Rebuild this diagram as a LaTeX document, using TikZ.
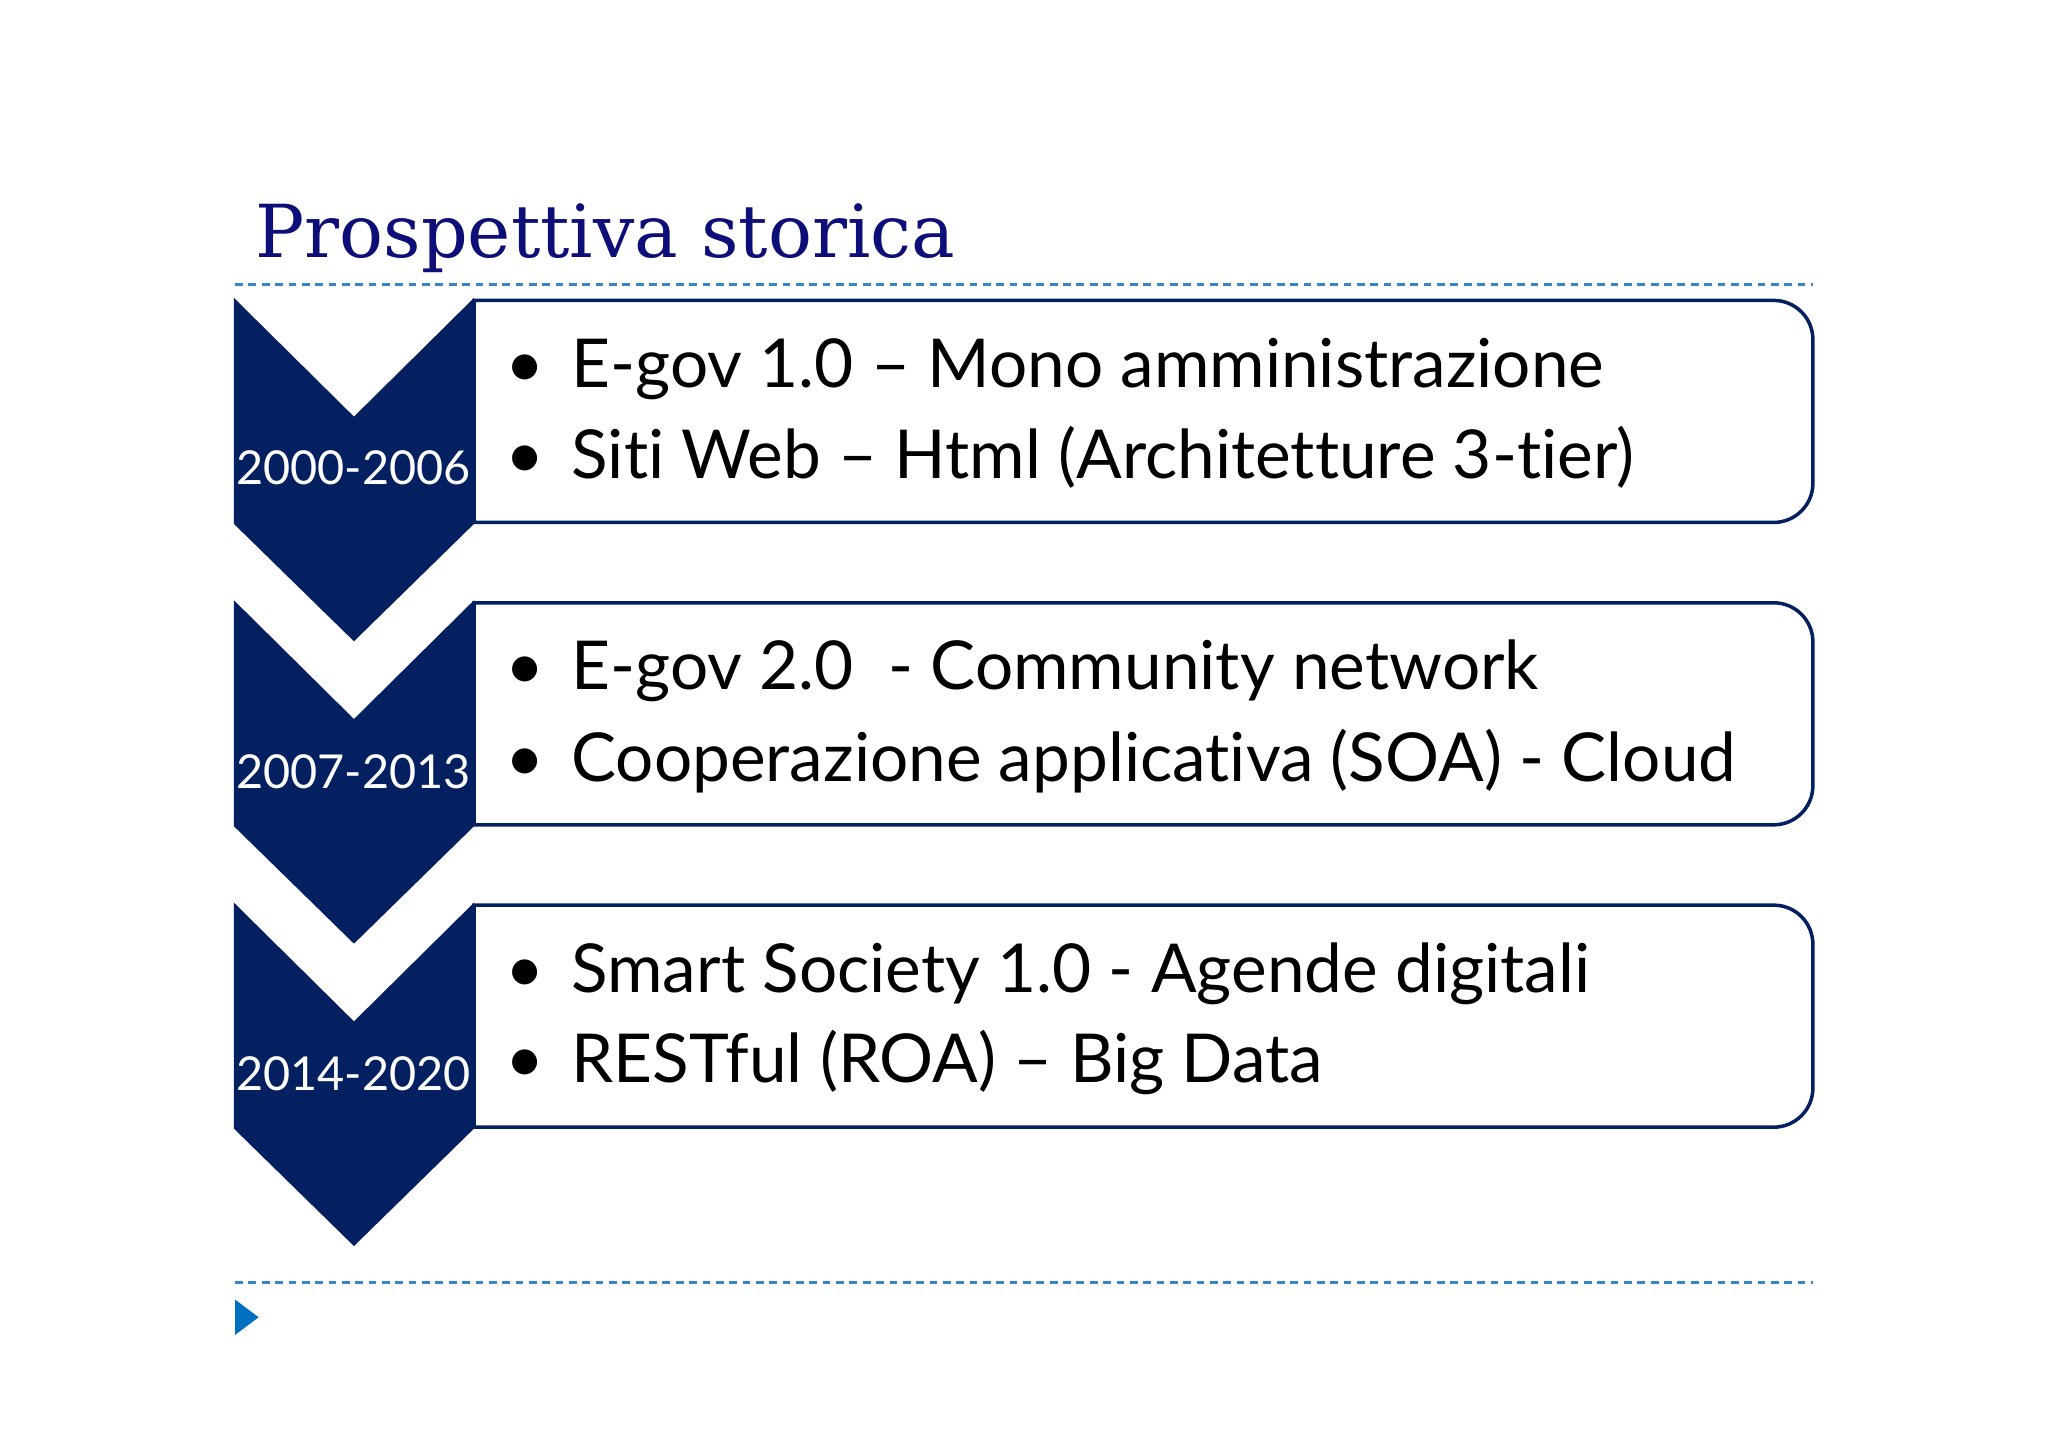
\documentclass[tikz,border=0pt]{standalone}
\usepackage{fontspec}
\newfontfamily\bodyfont[Ligatures=NoCommon]{Lato}
\newfontfamily\titlefont{DejaVu Serif}
\definecolor{navy}{RGB}{4,32,96}
\definecolor{titleblue}{RGB}{14,14,120}
\definecolor{ruleblue}{RGB}{55,135,200}
\definecolor{tri}{RGB}{0,112,192}
\begin{document}
\begin{tikzpicture}[x=0.0130612cm,y=0.0130612cm,
  chev/.style={fill=navy, draw=none},
  boxline/.style={draw=navy, line width=1pt, fill=white},
  item/.style={anchor=base west, inner sep=0pt, font=\bodyfont\fontsize{19.2}{19.2}\selectfont},
  bul/.style={anchor=base, inner sep=0pt, font=\bodyfont\fontsize{19.2}{19.2}\selectfont},
  year/.style={anchor=base, inner sep=0pt, text=white, font=\bodyfont\fontsize{13.3}{13.3}\selectfont},
  rule/.style={draw=ruleblue, line width=0.8pt, dash pattern=on 2.2pt off 1.6pt}]
\useasboundingbox[fill=white] (0,0) rectangle (1568,1108);

% title
\node[anchor=base west, inner sep=0pt, text=titleblue, font=\titlefont\fontsize{20.8}{20.8}\selectfont] (title) at (195,911) {Prospettiva storica};

% rules
\coordinate (r1a) at (180,890); \coordinate (r1b) at (1388,890);
\coordinate (r2a) at (180,126); \coordinate (r2b) at (1388,126);
\draw[rule] (r1a) -- (r1b);
\draw[rule] (r2a) -- (r2b);

% small triangle
\fill[tri] (180,113) -- (198,99.5) -- (180,86) -- cycle;

% boxes
\draw[boxline] (363,878) -- (1358,878) arc[start angle=90,end angle=0,radius=30] -- (1388,738) arc[start angle=0,end angle=-90,radius=30] -- (363,708) -- cycle;
\draw[boxline] (363,646.5) -- (1358,646.5) arc[start angle=90,end angle=0,radius=30] -- (1388,506.5) arc[start angle=0,end angle=-90,radius=30] -- (363,476.5) -- cycle;
\draw[boxline] (363,415) -- (1358,415) arc[start angle=90,end angle=0,radius=30] -- (1388,275) arc[start angle=0,end angle=-90,radius=30] -- (363,245) -- cycle;

% chevrons
\fill[chev] (179,880) -- (271,789) -- (363,880) -- (363,707) -- (271,617) -- (179,707) -- cycle;
\fill[chev] (179,648.5) -- (271,557.5) -- (363,648.5) -- (363,475.5) -- (271,385.5) -- (179,475.5) -- cycle;
\fill[chev] (179,417) -- (271,326) -- (363,417) -- (363,244) -- (271,154) -- (179,244) -- cycle;

% years
\node[year] (y1) at (270.5,737) {2000-2006};
\node[year] (y2) at (270.5,504) {2007-2013};
\node[year] (y3) at (270.5,273) {2014-2020};

% items
\node[bul] (b11) at (402,811) {•};
\node[item] (t11) at (437,811) {E-gov 1.0 – Mono amministrazione};
\node[bul] (b12) at (402,742) {•};
\node[item] (t12) at (437,742) {Siti Web – Html (Architetture 3-tier)};
\node[bul] (b21) at (402,580) {•};
\node[item] (t21) at (437,580) {E-gov 2.0\ \ - Community network};
\node[bul] (b22) at (402,510) {•};
\node[item] (t22) at (437,510) {Cooperazione applicativa (SOA) - Cloud};
\node[bul] (b31) at (402,348) {•};
\node[item] (t31) at (437,348) {Smart Society 1.0 - Agende digitali};
\node[bul] (b32) at (402,279) {•};
\node[item] (t32) at (437,279) {RESTful (ROA) – Big Data};
\end{tikzpicture}
\end{document}
